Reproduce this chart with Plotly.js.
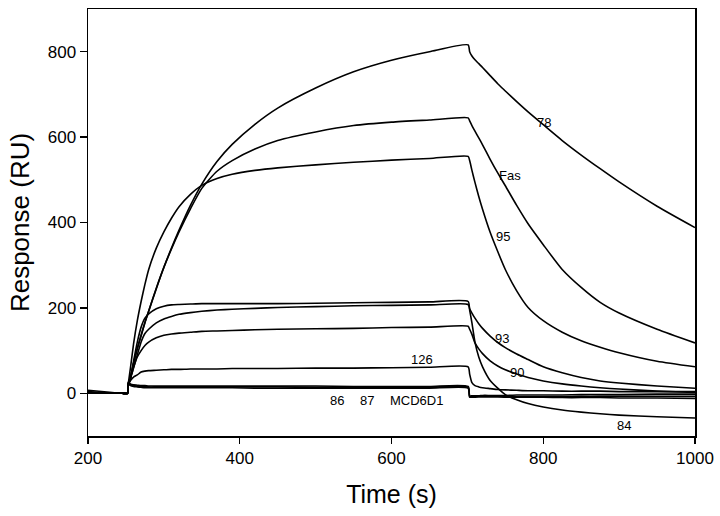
<!DOCTYPE html>
<html>
<head>
<meta charset="utf-8">
<script src="https://cdn.plot.ly/plotly-3.0.1.min.js"></script>
<style>html,body{margin:0;padding:0;background:#fff;}#chart{width:720px;height:516px;}</style>
</head>
<body>
<div id="chart"></div>
<script>
// Time points (s): baseline, association (253-701), dissociation (703-1000)
const time = [200, 225, 245, 252,
  253, 256, 260, 265, 270, 275, 280, 290, 300, 310, 320, 335, 350, 370, 390, 420, 450, 500, 550, 600, 650, 701,
  703, 706, 710, 715, 720, 730, 740, 750, 765, 780, 800, 825, 850, 875, 900, 950, 1000];

// Responses (RU)
const r78 = [0, 0, 0, 0,
  18, 38, 70, 105, 135, 165, 192, 245, 295, 340, 382, 440, 490, 543, 583, 630, 668, 715, 753, 780, 800, 816,
  800, 790, 781, 772, 763, 744, 725, 708, 683, 659, 629, 592, 558, 526, 495, 438, 388];
const rFas = [0, 0, 0, 0,
  18, 38, 70, 105, 136, 166, 193, 246, 295, 338, 378, 432, 480, 520, 545, 572, 592, 612, 627, 635, 640, 645,
  638, 627, 614, 598, 582, 548, 516, 486, 440, 397, 348, 290, 248, 213, 188, 150, 118];
const r95 = [0, 0, 0, 0,
  20, 60, 115, 170, 215, 255, 290, 340, 378, 410, 437, 466, 487, 503, 513, 522, 528, 535, 541, 546, 550, 555,
  545, 522, 494, 461, 431, 377, 332, 290, 240, 201, 170, 143, 123, 108, 95, 75, 62];
const r84 = [0, 0, 0, 0,
  20, 35, 75, 120, 155, 176, 186, 198, 204, 207, 208, 209, 210, 210, 210, 210, 210, 211, 212, 213, 214, 215,
  195, 165, 120, 85, 62, 30, 12, -3, -15, -24, -32, -39, -44, -48, -51, -55, -58];
const r93 = [0, 0, 0, 0,
  18, 35, 60, 90, 120, 140, 150, 165, 174, 180, 185, 189, 192, 195, 197, 199, 201, 203, 205, 206, 207, 208,
  198, 188, 176, 163, 152, 134, 119, 107, 92, 79, 62, 48, 37, 29, 24, 17, 12];
const r90 = [0, 0, 0, 0,
  18, 35, 60, 85, 100, 112, 120, 130, 136, 139, 141, 143, 145, 146, 147, 149, 150, 151, 152, 154, 155, 157,
  150, 138, 118, 104, 93, 76, 64, 55, 45, 37, 29, 22, 17, 13, 10, 5, 2];
const r126 = [0, 0, 0, 0,
  20, 30, 38, 43, 50, 52, 53, 54, 55, 56, 56, 57, 57, 57, 58, 58, 58, 59, 59, 60, 61, 62,
  45, 25, 18, 15, 13, 11, 9, 8, 7, 6, 6, 5, 5, 5, 4, 4, 4];
const r86 = [7, 3, 0, 0,
  26, 22, 20, 19, 18, 18, 17, 17, 17, 17, 17, 17, 17, 17, 17, 17, 17, 17, 16, 16, 16, 16,
  -8, -8, -8, -8, -8, -8, -8, -9, -9, -9, -9, -10, -10, -10, -11, -11, -12];
const r87 = [4, 1, 0, 0,
  24, 20, 18, 17, 16, 16, 15, 15, 15, 15, 15, 15, 15, 15, 15, 15, 15, 14, 14, 14, 14, 14,
  -9, -9, -9, -8, -8, -8, -8, -8, -8, -8, -8, -8, -7, -7, -7, -7, -7];
const rMCD = [0, 0, 0, 0,
  22, 18, 16, 15, 14, 13, 13, 13, 13, 13, 13, 13, 13, 13, 13, 12, 12, 12, 12, 12, 12, 12,
  -6, -6, -6, -6, -5, -5, -5, -5, -4, -4, -4, -4, -3, -3, -3, -2, -2];

const seriesNames = ['78', 'Fas', '95', '84', '93', '90', '126', '86', '87', 'MCD6D1'];
const seriesValues = [r78, rFas, r95, r84, r93, r90, r126, r86, r87, rMCD];

// Curve labels
const labelTexts = ['78', 'Fas', '95', '93', '90', '84', '126', '86', '87', 'MCD6D1'];
const labelX = [801, 756, 747, 745, 765, 906, 640, 528, 568, 633];
const labelY = [634, 510, 367, 129, 49, -75, 79, -16, -16, -16];

const xTicks = [200, 400, 600, 800, 1000];
const yTicks = [0, 200, 400, 600, 800];

const FONT = 'Liberation Sans, Arial, Helvetica, sans-serif';

const traces = seriesValues.map((vals, i) => ({
  x: time, y: vals, name: seriesNames[i], type: 'scatter', mode: 'lines',
  line: {color: '#000', width: 1.6, shape: 'spline', smoothing: 0.6}, hoverinfo: 'name'
}));

const annotations = labelTexts.map((t, i) => ({
  x: labelX[i], y: labelY[i], xref: 'x', yref: 'y', text: t, showarrow: false,
  font: {family: FONT, size: 13, color: '#000'}
}));

const layout = {
  width: 720, height: 516,
  margin: {l: 88, r: 25, t: 9, b: 80},
  paper_bgcolor: '#fff', plot_bgcolor: '#fff',
  showlegend: false,
  font: {family: FONT, color: '#000'},
  xaxis: {
    range: [200, 1000], tickvals: xTicks, ticktext: xTicks.map(String),
    ticks: 'outside', ticklen: 6, tickwidth: 1.3, tickcolor: '#000',
    showline: true, mirror: true, linecolor: '#000', linewidth: 1.5,
    showgrid: false, zeroline: false,
    tickfont: {family: FONT, size: 17, color: '#000'},
    title: {text: 'Time (s)', font: {family: FONT, size: 25, color: '#000'}, standoff: 18},
    automargin: false
  },
  yaxis: {
    range: [-100, 900], tickvals: yTicks, ticktext: yTicks.map(String),
    ticks: 'outside', ticklen: 7, tickwidth: 1.3, tickcolor: '#000',
    showline: true, mirror: true, linecolor: '#000', linewidth: 1.5,
    showgrid: false, zeroline: false,
    tickfont: {family: FONT, size: 17, color: '#000'},
    title: {text: 'Response (RU)', font: {family: FONT, size: 26, color: '#000'}, standoff: 10},
    automargin: false
  },
  annotations: annotations
};

Plotly.newPlot('chart', traces, layout, {displayModeBar: false, staticPlot: true});
</script>
</body>
</html>
